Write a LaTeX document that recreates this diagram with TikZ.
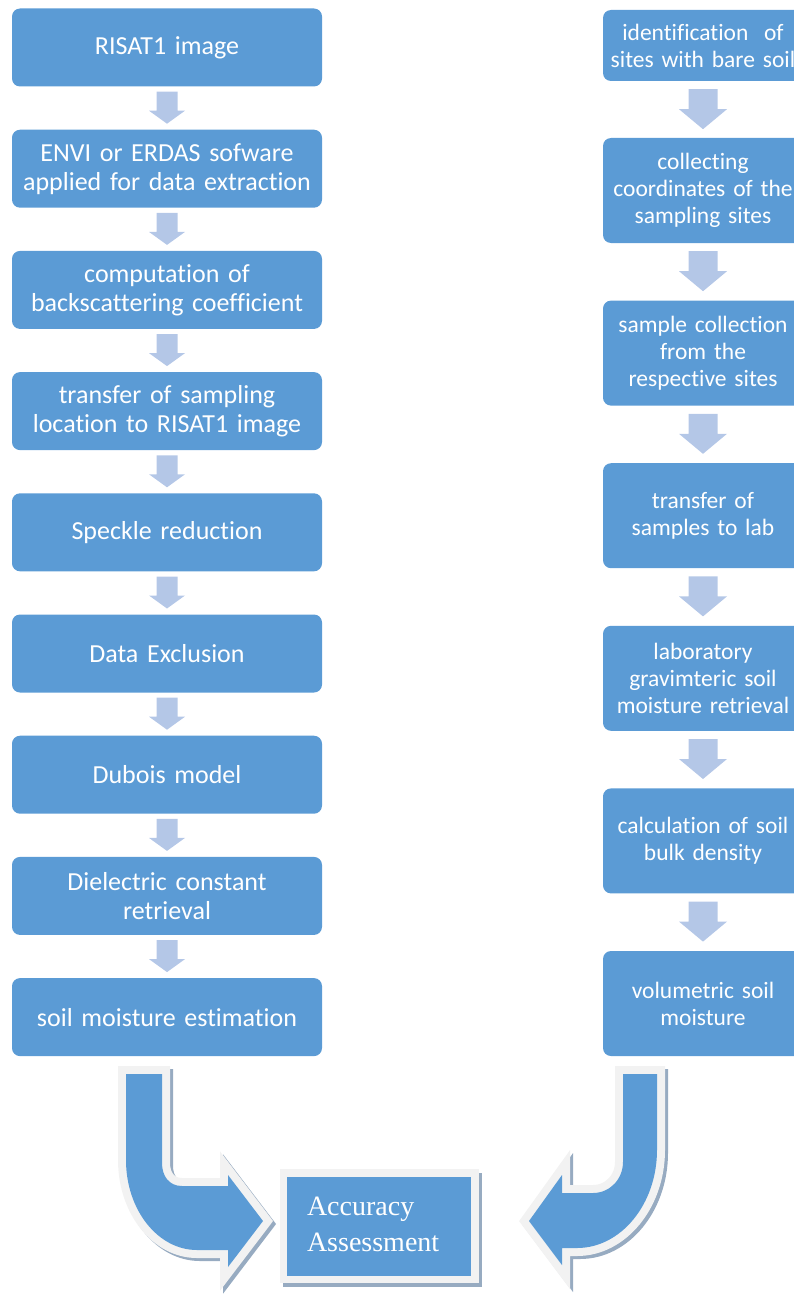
\documentclass[tikz,border=0pt]{standalone}
\usepackage{fontspec}
\setmainfont{Carlito}[Ligatures=NoCommon]
\newfontfamily\timesf{Liberation Serif}
\usetikzlibrary{calc}
\definecolor{boxblue}{HTML}{5B9BD5}
\definecolor{arrowlight}{HTML}{B4C7E7}
\definecolor{outl}{HTML}{F2F2F2}
\definecolor{shad}{HTML}{97ABC1}
\tikzset{
  lbox/.style={fill=boxblue, rounded corners=8pt, text=white, align=center,
    font=\fontsize{26}{29}\selectfont, minimum width=310pt, minimum height=78pt,
    text width=304pt, inner sep=0pt},
  rbox/.style={fill=boxblue, rounded corners=8pt, text=white, align=center,
    font=\fontsize{23.5}{27}\selectfont, minimum width=200pt, minimum height=105pt,
    text width=192pt, inner sep=0pt},
  smallarr/.style={fill=arrowlight},
  shadowlayer/.style={fill=shad, draw=shad, line width=16pt, shift={(3,3)}},
  outlinelayer/.style={fill=outl, draw=outl, line width=16pt},
  bluelayer/.style={fill=boxblue},
}
\newcommand{\larrow}[1]{%
  \fill[smallarr] ($(#1.south)+(-10.5,5)$) -- ($(#1.south)+(10.5,5)$) -- ($(#1.south)+(10.5,24)$)
    -- ($(#1.south)+(18,24)$) -- ($(#1.south)+(0,37)$) -- ($(#1.south)+(-18,24)$)
    -- ($(#1.south)+(-10.5,24)$) -- cycle;}
\newcommand{\rarrow}[1]{%
  \fill[smallarr] ($(#1.south)+(-14.5,8)$) -- ($(#1.south)+(14.5,8)$) -- ($(#1.south)+(14.5,28)$)
    -- ($(#1.south)+(24,28)$) -- ($(#1.south)+(0,48)$) -- ($(#1.south)+(-24,28)$)
    -- ($(#1.south)+(-14.5,28)$) -- cycle;}
\begin{document}
\begin{tikzpicture}[x=1pt,y=-1pt]
\useasboundingbox (0,0) rectangle (794,1295);
% left column
\node[lbox] (L1) at (167,47.5) {RISAT1 image};
\node[lbox] (L2) at (167,168.7) {ENVI or ERDAS sofware\\applied for data extraction};
\node[lbox] (L3) at (167,289.9) {computation of\\backscattering coefficient};
\node[lbox] (L4) at (167,411.1) {transfer of sampling\\location to RISAT1 image};
\node[lbox] (L5) at (167,532.3) {Speckle reduction};
\node[lbox] (L6) at (167,653.5) {Data Exclusion};
\node[lbox] (L7) at (167,774.7) {Dubois model};
\node[lbox] (L8) at (167,895.9) {Dielectric constant\\retrieval};
\node[lbox] (L9) at (167,1017.1) {soil moisture estimation};
\larrow{L1}\larrow{L2}\larrow{L3}\larrow{L4}\larrow{L5}\larrow{L6}\larrow{L7}\larrow{L8}
% right column
\node[rbox, minimum height=71pt] (R1) at (703,45.5) {identification\ \ of\\sites with bare soil};
\node[rbox] (R2) at (703,190.5) {collecting\\coordinates of the\\sampling sites};
\node[rbox] (R3) at (703,353.1) {sample collection\\from the\\respective sites};
\node[rbox] (R4) at (703,515.7) {transfer of\\samples to lab};
\node[rbox] (R5) at (703,678.3) {laboratory\\gravimteric soil\\moisture retrieval};
\node[rbox] (R6) at (703,840.9) {calculation of soil\\bulk density};
\node[rbox] (R7) at (703,1003.5) {volumetric soil\\moisture};
\rarrow{R1}\rarrow{R2}\rarrow{R3}\rarrow{R4}\rarrow{R5}\rarrow{R6}
% curved arrows
\foreach \st in {shadowlayer, outlinelayer, bluelayer}{
  \path[\st] (126,1074) -- (162,1074) -- (162,1163) .. controls (162,1176) and (169,1186) .. (182,1186)
    -- (228,1186) -- (228,1175) -- (263,1221) -- (228,1267) -- (228,1250) -- (197,1250)
    .. controls (158,1250) and (126,1210) .. (126,1160) -- cycle;
  \path[\st] (657,1074) -- (623,1074) -- (623,1162) .. controls (623,1179) and (610,1193) .. (593,1193)
    -- (562,1193) -- (562,1175) -- (529,1221) -- (562,1265) -- (562,1248) -- (577,1248)
    .. controls (621,1248) and (657,1204) .. (657,1150) -- cycle;
}
% accuracy assessment
\fill[shad] (283,1173) rectangle (482,1287);
\fill[outl] (280,1169) rectangle (479,1283);
\node[fill=boxblue, minimum width=184pt, minimum height=99pt, inner xsep=20pt, inner ysep=0pt,
  text width=144pt, align=left, text=white, font=\timesf\fontsize{28}{36}\selectfont]
  (acc) at (379,1226.5) {Accuracy\\Assessment\vspace{5pt}};
\end{tikzpicture}
\end{document}
